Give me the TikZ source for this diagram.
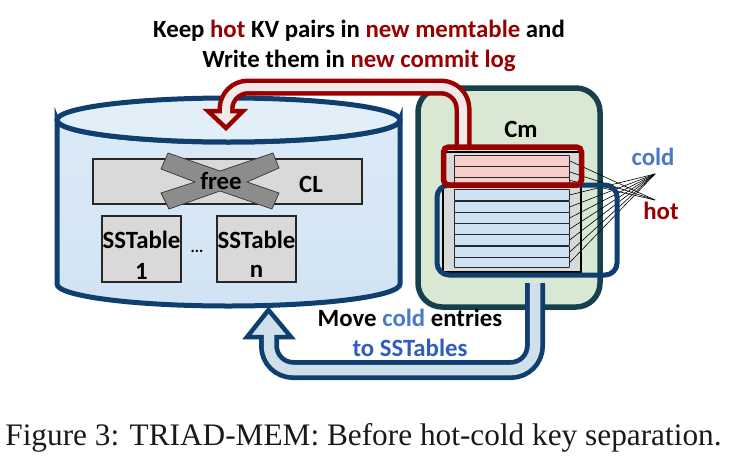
\documentclass[tikz,border=0pt]{standalone}
\usepackage{fontspec}
\setmainfont{Carlito}
\newfontfamily\capfont{Liberation Serif}
\definecolor{dkred}{HTML}{990000}
\definecolor{dkblue}{HTML}{0F3F6E}
\definecolor{dkteal}{HTML}{17404F}
\definecolor{txtblue}{HTML}{2F5DB8}
\definecolor{coldblue}{HTML}{4A78CC}
\definecolor{greybox}{HTML}{D9D9D9}
\definecolor{pinkrow}{HTML}{F6CFCB}
\definecolor{bluerow}{HTML}{CFE2F3}
\definecolor{paleG}{HTML}{D8E8D2}
\definecolor{pipeB}{HTML}{CFE0EA}
\definecolor{pipeR}{HTML}{F3E9E9}
\tikzset{
  gbox/.style={draw=black!85,line width=1.2pt,fill=greybox,inner sep=0pt,align=center},
  rowbox/.style={draw=black!85,line width=0.8pt,rounded corners=0.5pt,inner sep=0pt,minimum width=115pt,anchor=north west},
  spoke/.style={draw=black,line width=0.6pt},
  lab/.style={inner sep=0pt,font=\bfseries\fontsize{24.8}{29}\selectfont,text=black},
}
\begin{document}
\begin{tikzpicture}[x=1pt,y=-1pt]
\useasboundingbox (0,0) rectangle (738,466);
% cylinder
\draw[dkblue,line width=5pt,top color=bluerow!75!white,bottom color=bluerow!95!white]
  (57,120) -- (57,284) arc[start angle=180,end angle=0,x radius=171.5,y radius=22] -- (400,120)
  arc[start angle=0,end angle=180,x radius=171.5,y radius=22] -- cycle;
\draw[dkblue,line width=5pt,fill=bluerow!60!white]
  (228.5,120) ellipse[x radius=171.5,y radius=22];
% CL
\node[gbox,minimum width=269pt,minimum height=45pt] (cl) at (227.5,181.5) {};
\node[lab] (cltxt) at (311,184) {CL};
\fill[black!45,draw=black!80,line width=0.7pt]
  (168,153) -- (161,169) -- (195,182) -- (161,193) -- (169,209) -- (220,191)
  -- (272,209) -- (279,193) -- (247,182) -- (279,168) -- (273,153) -- (220,171) -- cycle;
\node[lab] (free) at (221,181) {free};
% SSTables
\node[gbox,minimum width=79pt,minimum height=66pt] (s1) at (141.5,249) {};
\node[gbox,minimum width=79pt,minimum height=66pt] (sn) at (256.5,249) {};
\node[lab] (s1a) at (141.5,240) {SSTable};
\node[lab] (s1b) at (141.5,271) {1};
\node[lab] (sna) at (256.5,240) {SSTable};
\node[lab] (snb) at (256.5,271) {n};
\node[lab,font=\bfseries\fontsize{16}{20}\selectfont] (dots) at (197,251) {...};
% Cm box
\node[draw=dkteal,line width=5.5pt,fill=paleG,rounded corners=24pt,minimum width=182pt,minimum height=219pt,inner sep=0pt] (cm) at (509,197.5) {};
\node[lab] (cmt) at (521,129) {Cm};
% memtable body
\node[draw=black,line width=1.2pt,fill=greybox,minimum width=138pt,minimum height=120pt,inner sep=0pt] (mem) at (512,212) {};
% rows
\coordinate (hotpt) at (655,200);
\coordinate (coldpt) at (655,174);
\node[rowbox,fill=pinkrow,minimum height=11pt] (p1) at (454,155) {};
\node[rowbox,fill=pinkrow,minimum height=11pt] (p2) at (454,166) {};
\node[rowbox,fill=pinkrow,minimum height=6pt] (p3) at (454,177) {};
\node[rowbox,fill=bluerow,minimum height=11pt] (b1) at (454,189) {};
\node[rowbox,fill=bluerow,minimum height=11pt] (b2) at (454,201) {};
\node[rowbox,fill=bluerow,minimum height=11pt] (b3) at (454,212) {};
\node[rowbox,fill=bluerow,minimum height=11pt] (b4) at (454,223) {};
\node[rowbox,fill=bluerow,minimum height=11pt] (b5) at (454,234) {};
\node[rowbox,fill=bluerow,minimum height=11pt] (b6) at (454,246) {};
\node[rowbox,fill=bluerow,minimum height=10pt] (b7) at (454,257) {};
\foreach \r in {p1,p2,p3}{\draw[spoke] (\r.east) -- (hotpt);}
\foreach \r in {b1,b2,b3,b4,b5,b6,b7}{\draw[spoke] (\r.east) -- (coldpt);}
% blue and red frames
\node[draw=dkblue,line width=5pt,rounded corners=12pt,minimum width=180pt,minimum height=90pt,inner sep=0pt] (bframe) at (527,230) {};
% red arrow
\coordinate (ra) at (463,150);
\coordinate (rb) at (463,87);
\coordinate (rc) at (226,87);
\coordinate (rd) at (226,116);
\draw[dkred,line width=17pt,rounded corners=22pt] (ra) -- (rb) -- (rc) -- (rd);
\draw[dkred,line width=4.5pt,fill=pipeR,line join=miter] (208,111) -- (226,128) -- (243,111) -- cycle;
\draw[pipeR,line width=8pt,rounded corners=22pt] (ra) -- (rb) -- (rc) -- (rd);
\node[draw=dkred,line width=5.5pt,rounded corners=5pt,minimum width=138pt,minimum height=38pt,inner sep=0pt] (rframe) at (512.5,166) {};
% blue arrow
\coordinate (ba) at (535,283);
\coordinate (bb) at (535,370);
\coordinate (bc) at (269,370);
\coordinate (bd) at (269,330);
\draw[dkblue,line width=20pt,rounded corners=24pt] (ba) -- (bb) -- (bc) -- (bd);
\draw[dkblue,line width=4.5pt,fill=pipeB,line join=miter] (247,337) -- (268.5,310) -- (291,337) -- cycle;
\draw[pipeB,line width=10.5pt,rounded corners=24pt] (ba) -- (bb) -- (bc) -- (bd);
% labels
\node[lab,text=coldblue] (coldl) at (653,157) {cold};
\node[lab,text=dkred] (hotl) at (661,211) {hot};
\node[lab] (t1) at (359,31) {Keep \textcolor{dkred}{hot} KV pairs in \textcolor{dkred}{new memtable} and};
\node[lab] (t2) at (359,61) {Write them in \textcolor{dkred}{new commit log}};
\node[lab] (t3) at (410,318) {Move \textcolor{coldblue}{cold} entries};
\node[lab,text=txtblue] (t4) at (410,348) {to SSTables};
\node[inner sep=0pt,font=\capfont\fontsize{31.3}{36}\selectfont,text=black!90] (cap) at (363.5,438) {Figure 3: TRIAD-MEM: Before hot-cold key separation.};
\end{tikzpicture}
\end{document}
